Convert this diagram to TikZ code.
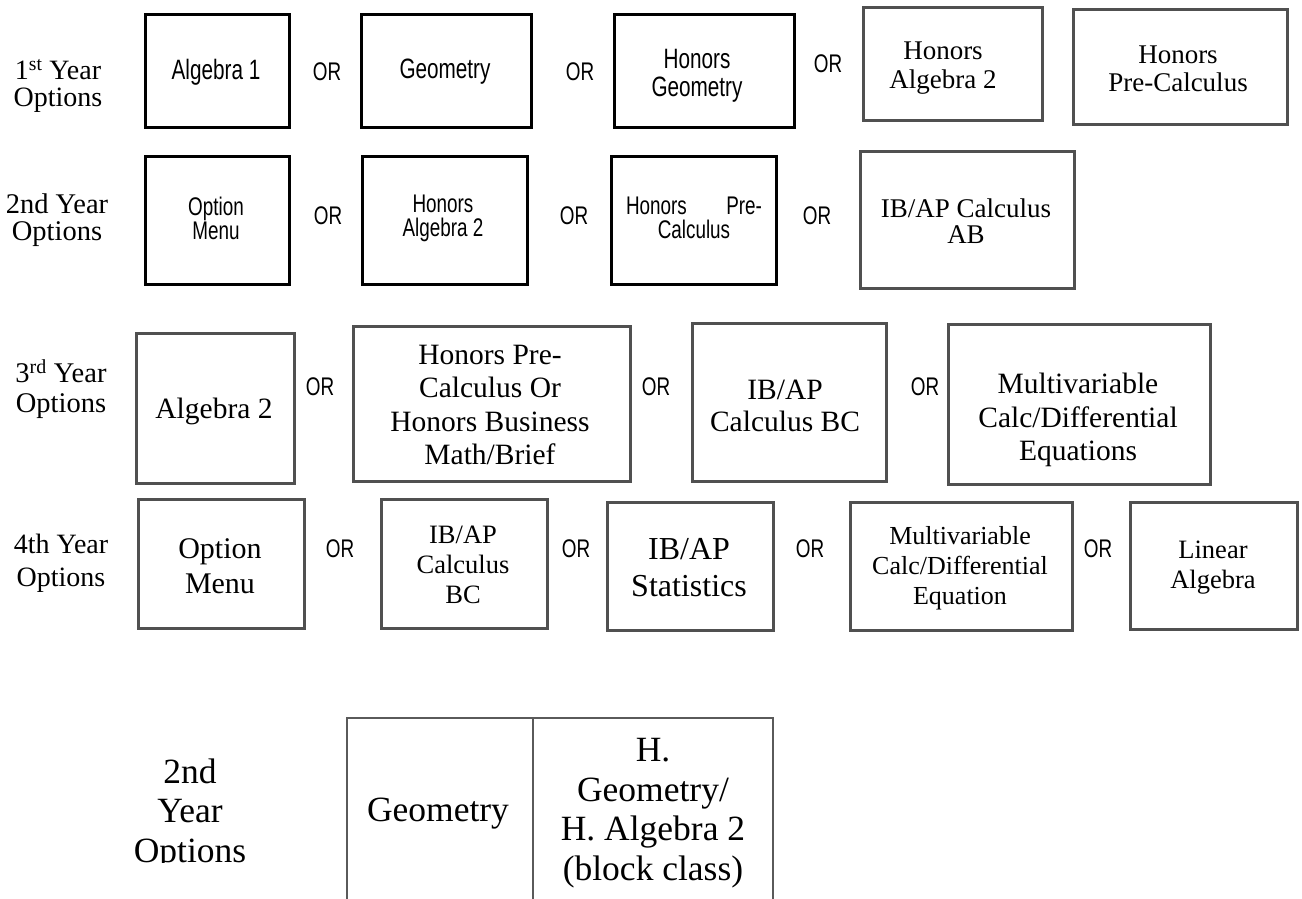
\documentclass[tikz,border=0pt]{standalone}
\usepackage{fontspec}
\setmainfont{Liberation Serif}
\newfontfamily\arlf{Liberation Sans}[FakeStretch=0.74]
\definecolor{boxgray}{RGB}{80,80,80}
\definecolor{tblgray}{RGB}{90,90,90}
\begin{document}
\begin{tikzpicture}[x=1pt,y=-1pt,
  blk/.style={draw=black,line width=3.3pt,inner sep=0pt,anchor=north west},
  gbx/.style={draw=boxgray,line width=2.7pt,inner sep=0pt,anchor=north west},
  tcell/.style={draw=tblgray,line width=2.2pt,inner sep=0pt,anchor=north west},
  txt/.style={align=center,inner sep=0pt},
  sansA/.style={txt,font=\arlf\fontsize{28}{28}\selectfont},
  sansB/.style={txt,font=\arlf\fontsize{25.5}{24}\selectfont},
  orst/.style={txt,font=\arlf\fontsize{25.5}{25}\selectfont},
  tmsA/.style={txt,font=\fontsize{27}{28.5}\selectfont},
  lblA/.style={txt,font=\fontsize{28}{27.5}\selectfont},
  palA/.style={txt,font=\fontsize{29.5}{33.5}\selectfont},
  tmsB/.style={txt,font=\fontsize{26.5}{30}\selectfont},
  tbl/.style={txt,font=\fontsize{35.5}{39.5}\selectfont}]
\useasboundingbox (0,0) rectangle (1302,898);

% ---------- Row 1 ----------
\node[lblA] (l1) at (58,86) {1\textsuperscript{st} Year\\Options};
\node[blk,minimum width=144pt,minimum height=113pt] (a1) at (144,13) {};
\node[sansA] (a1t) at (216,72) {Algebra 1};
\node[orst] (o11) at (327,72) {OR};
\node[blk,minimum width=170pt,minimum height=113pt] (g1) at (360,13) {};
\node[sansA] (g1t) at (445,72) {Geometry};
\node[orst] (o12) at (580,72) {OR};
\node[blk,minimum width=180pt,minimum height=113pt] (hg1) at (613,13) {};
\node[sansA] (hg1t) at (697,76) {Honors\\Geometry};
\node[orst] (o13) at (828,64) {OR};
\node[gbx,minimum width=179pt,minimum height=113pt] (ha1) at (862,6) {};
\node[tmsA] (ha1t) at (943,68) {Honors\\Algebra 2};
\node[gbx,minimum width=214pt,minimum height=115pt] (hp1) at (1072,8) {};
\node[tmsA] (hp1t) at (1178,69) {Honors\\Pre-Calculus};

% ---------- Row 2 ----------
\node[lblA,font=\fontsize{28.5}{27.5}\selectfont] (l2) at (57,220) {2nd Year\\Options};
\node[blk,minimum width=144pt,minimum height=128pt] (om2) at (144,155) {};
\node[sansB] (om2t) at (216,218) {Option\\Menu};
\node[orst] (o21) at (328,216) {OR};
\node[blk,minimum width=165pt,minimum height=128pt] (ha2) at (361,155) {};
\node[sansB] (ha2t) at (443,218) {Honors\\Algebra 2};
\node[orst] (o22) at (574,216) {OR};
\node[blk,minimum width=165pt,minimum height=128pt] (hp2) at (610,155) {};
\node[sansB] (hp2t) at (694,218) {\makebox[136pt]{Honors\hfill Pre-}\\Calculus};
\node[orst] (o23) at (817,216) {OR};
\node[gbx,minimum width=214pt,minimum height=137pt] (ib2) at (859,150) {};
\node[tmsA,font=\fontsize{27}{26.5}\selectfont] (ib2t) at (966,221) {IB/AP Calculus\\AB};

% ---------- Row 3 ----------
\node[lblA,font=\fontsize{28.5}{29.5}\selectfont] (l3) at (61,389) {3\textsuperscript{rd} Year\\Options};
\node[gbx,minimum width=158pt,minimum height=150pt] (al3) at (135,332) {};
\node[palA] (al3t) at (214,411) {Algebra 2};
\node[orst] (o31) at (320,387) {OR};
\node[gbx,minimum width=277pt,minimum height=155pt] (hp3) at (352,325) {};
\node[palA] (hp3t) at (490,405) {Honors Pre-\\Calculus Or\\Honors Business\\Math/Brief};
\node[orst] (o32) at (656,387) {OR};
\node[gbx,minimum width=194pt,minimum height=158pt] (ib3) at (691,322) {};
\node[palA,font=\fontsize{29.5}{32}\selectfont] (ib3t) at (785,406) {IB/AP\\Calculus BC};
\node[orst] (o33) at (925,387) {OR};
\node[gbx,minimum width=262pt,minimum height=160pt] (mv3) at (947,323) {};
\node[palA] (mv3t) at (1078,420) {Multivariable\\Calc/Differential\\Equations};

% ---------- Row 4 ----------
\node[lblA,font=\fontsize{28}{33}\selectfont] (l4) at (61,563) {4th Year\\Options};
\node[gbx,minimum width=166pt,minimum height=129pt] (om4) at (137,498) {};
\node[tmsB,font=\fontsize{30}{35}\selectfont] (om4t) at (220,566) {Option\\Menu};
\node[orst] (o41) at (340,549) {OR};
\node[gbx,minimum width=166pt,minimum height=129pt] (ib4) at (380,498) {};
\node[tmsB] (ib4t) at (463,565) {IB/AP\\Calculus\\BC};
\node[orst] (o42) at (576,549) {OR};
\node[gbx,minimum width=166pt,minimum height=128pt] (st4) at (606,501) {};
\node[tmsB,font=\fontsize{32}{37}\selectfont] (st4t) at (689,568) {IB/AP\\Statistics};
\node[orst] (o43) at (810,549) {OR};
\node[gbx,minimum width=222pt,minimum height=128pt] (mv4) at (849,501) {};
\node[tmsB,font=\fontsize{26}{30}\selectfont] (mv4t) at (960,568) {Multivariable\\Calc/Differential\\Equation};
\node[orst] (o44) at (1098,549) {OR};
\node[gbx,minimum width=167pt,minimum height=127pt] (la4) at (1129,501) {};
\node[tmsB] (la4t) at (1213,568) {Linear\\Algebra};

% ---------- Bottom table ----------
\begin{scope}
  \clip (0,700) rectangle (340,862);
  \node[tbl] (tl) at (190,814) {2nd\\Year\\Options};
\end{scope}
\node[tcell,minimum width=186pt,minimum height=210pt] (c1) at (346,717) {};
\node[tcell,minimum width=240pt,minimum height=210pt] (c2) at (532,717) {};
\node[tbl] (c1t) at (438,814) {Geometry};
\node[tbl] (c2t) at (653,813) {H.\\Geometry/\\H. Algebra 2\\(block class)};
\end{tikzpicture}
\end{document}
